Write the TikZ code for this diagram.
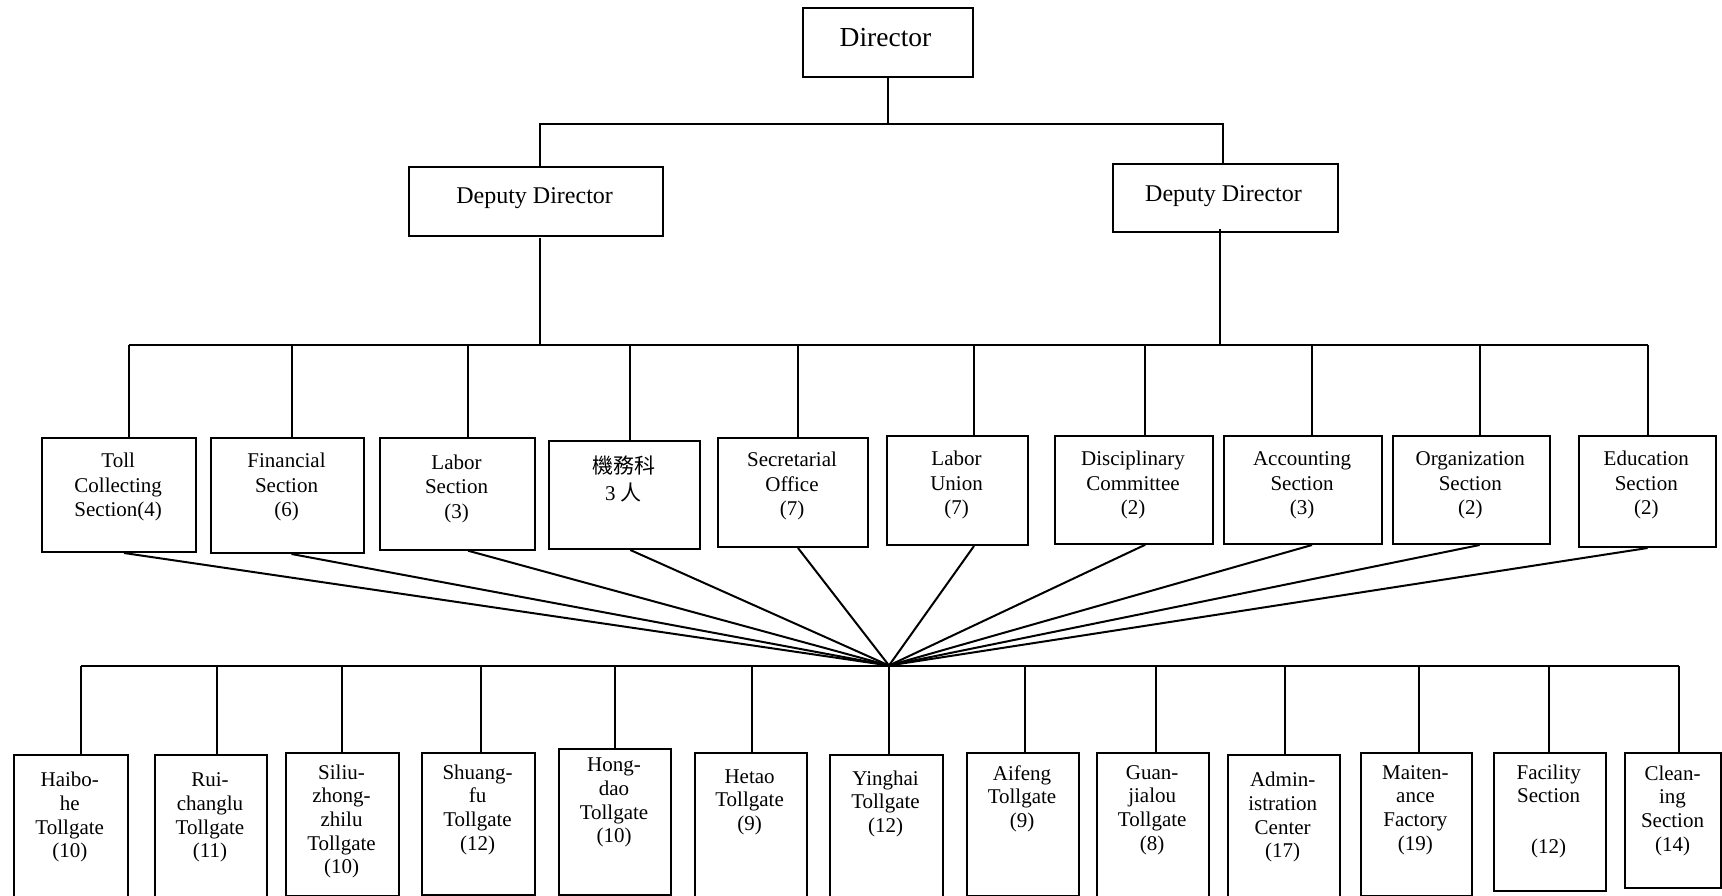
\documentclass[tikz,border=0pt]{standalone}
\usepackage{fontspec}
\setmainfont{Liberation Serif}
\newfontfamily\cjk{Noto Sans CJK TC}
\newcommand\fdir{\fontsize{27.5}{30}\selectfont}
\newcommand\fdep{\fontsize{24}{28}\selectfont}
\newcommand\fmid{\fontsize{21}{24.5}\selectfont}
\newcommand\fbot{\fontsize{21}{23.7}\selectfont}
\begin{document}
\begin{tikzpicture}[x=1pt,y=-1pt,
  box/.style={draw, line width=2pt, rectangle, inner sep=0pt, anchor=north west},
  ln/.style={line width=2pt},
  tdir/.style={align=center, inner sep=0pt, anchor=base, font=\fdir},
  tdep/.style={align=center, inner sep=0pt, anchor=base, font=\fdep},
  tmid/.style={align=center, inner sep=0pt, anchor=base, font=\fmid},
  tbot/.style={align=center, inner sep=0pt, anchor=base, font=\fbot}]
\useasboundingbox[fill=white] (0,0) rectangle (1722,896);

% ---------- top level ----------
\node[box, minimum width=170pt, minimum height=69pt] (dir) at (802,7.5) {};
\node[tdir] (dirt) at (885.5,46.7) {Director};
\node[box, minimum width=254pt, minimum height=69.3pt] (dd1) at (407.6,165.7) {};
\node[tdep] (dd1t) at (534.6,204) {Deputy Director};
\node[box, minimum width=224.7pt, minimum height=68pt] (dd2) at (1111.8,163) {};
\node[tdep] (dd2t) at (1223.5,201.7) {Deputy Director};

\coordinate (t1) at (540.4,124);
\coordinate (t2) at (1222.6,124);
\draw[ln] (dir.south) -- (dir.south |- t1);
\draw[ln] (t1 |- dd1.north) -- (t1) -- (t2) -- (t2 |- dd2.north);

% ---------- middle level ----------
\node[box, minimum width=153.6pt, minimum height=113.7pt] (m1) at (41.4,437.3) {};
\node[box, minimum width=153pt, minimum height=115pt] (m2) at (210,437) {};
\node[box, minimum width=155pt, minimum height=111.4pt] (m3) at (379,437.3) {};
\node[box, minimum width=150.7pt, minimum height=108pt] (m4) at (548.3,440) {};
\node[box, minimum width=150pt, minimum height=109pt] (m5) at (717,437) {};
\node[box, minimum width=141pt, minimum height=109pt] (m6) at (886,435) {};
\node[box, minimum width=157.7pt, minimum height=107.7pt] (m7) at (1054,435) {};
\node[box, minimum width=158pt, minimum height=108pt] (m8) at (1223,435) {};
\node[box, minimum width=157.4pt, minimum height=108pt] (m9) at (1391.6,435) {};
\node[box, minimum width=137.3pt, minimum height=111pt] (m10) at (1577.7,435) {};

% (anchor base = baseline of the last line)
\node[tmid] (m1t) at (118.2,516.7) {Toll\\Collecting\\Section(4)};
\node[tmid] (m2t) at (286.5,516.7) {Financial\\Section\\(6)};
\node[tmid] (m3t) at (456.5,518) {Labor\\Section\\(3)};
\node[tmid] (m4t) at (623.6,500.5) {{\cjk 機務科}\\[3pt]3 {\cjk 人}};
\node[tmid] (m5t) at (792,515.7) {Secretarial\\Office\\(7)};
\node[tmid] (m6t) at (956.5,514.7) {Labor\\Union\\(7)};
\node[tmid] (m7t) at (1133,514.7) {Disciplinary\\Committee\\(2)};
\node[tmid] (m8t) at (1302,514.7) {Accounting\\Section\\(3)};
\node[tmid] (m9t) at (1470.3,514.7) {Organization\\Section\\(2)};
\node[tmid] (m10t) at (1646.3,514.7) {Education\\Section\\(2)};

\coordinate (d1) at (540.4,345);
\coordinate (d2) at (1220,345);
\draw[ln] ([yshift=-1pt]t1 |- dd1.south) -- (d1);
\draw[ln] ([yshift=4pt]d2 |- dd2.south) -- (d2);

\foreach \i/\x in {1/128.7,2/291.5,3/468,4/630.3,5/798,6/974,7/1145.3,8/1312,9/1479.6,10/1647.6}{
  \coordinate (s\i) at (\x,345);
}
\draw[ln] (s1) -- (s10);
\foreach \i in {1,...,10}{
  \draw[ln] (s\i) -- (s\i |- m\i.north);
}

% ---------- convergence ----------
\coordinate (C) at (889,665.5);
\draw[ln] (m1.south -| 124,0) -- (C);
\foreach \i in {2,...,10}{
  \draw[ln] (m\i.south -| s\i) -- (C);
}

% ---------- bottom level ----------
\node[box, minimum width=113.5pt, minimum height=146pt] (b1) at (13,754) {};
\node[box, minimum width=112pt, minimum height=146pt] (b2) at (154,754) {};
\node[box, minimum width=113pt, minimum height=143.3pt] (b3) at (285,751.7) {};
\node[box, minimum width=113pt, minimum height=142.3pt] (b4) at (421,751.7) {};
\node[box, minimum width=112pt, minimum height=146pt] (b5) at (558,748) {};
\node[box, minimum width=112pt, minimum height=148pt] (b6) at (693.6,752) {};
\node[box, minimum width=113pt, minimum height=146pt] (b7) at (829,754) {};
\node[box, minimum width=112pt, minimum height=143.3pt] (b8) at (966,751.7) {};
\node[box, minimum width=112.4pt, minimum height=148.3pt] (b9) at (1096,751.7) {};
\node[box, minimum width=112.1pt, minimum height=146pt] (b10) at (1226.6,754) {};
\node[box, minimum width=111.2pt, minimum height=143.3pt] (b11) at (1359.8,751.7) {};
\node[box, minimum width=112.1pt, minimum height=138.3pt] (b12) at (1492.6,751.7) {};
\node[box, minimum width=96pt, minimum height=135.3pt] (b13) at (1624,751.7) {};

\node[tbot] (b1t) at (69.75,857.8) {Haibo-\\he\\Tollgate\\(10)};
\node[tbot] (b2t) at (210,857.8) {Rui-\\changlu\\Tollgate\\(11)};
\node[tbot] (b3t) at (341.5,873.8) {Siliu-\\zhong-\\zhilu\\Tollgate\\(10)};
\node[tbot] (b4t) at (477.5,850.1) {Shuang-\\fu\\Tollgate\\(12)};
\node[tbot] (b5t) at (614,842.8) {Hong-\\dao\\Tollgate\\(10)};
\node[tbot] (b6t) at (749.6,830.4) {Hetao\\Tollgate\\(9)};
\node[tbot] (b7t) at (885.5,832.4) {Yinghai\\Tollgate\\(12)};
\node[tbot] (b8t) at (1022,827.4) {Aifeng\\Tollgate\\(9)};
\node[tbot] (b9t) at (1152.2,850.1) {Guan-\\jialou\\Tollgate\\(8)};
\node[tbot] (b10t) at (1282.65,857.8) {Admin-\\istration\\Center\\(17)};
\node[tbot] (b11t) at (1415.4,850.1) {Maiten-\\ance\\Factory\\(19)};
\node[tbot] (b12t) at (1548.65,853.4) {Facility\\Section\\[27pt](12)};
\node[tbot] (b13t) at (1672.5,851.1) {Clean-\\ing\\Section\\(14)};

\foreach \i/\x in {1/81.4,2/216.8,3/342,4/481,5/614.8,6/752.4,7/889.3,8/1025,9/1155.5,10/1285.4,11/1419.3,12/1548.8,13/1679}{
  \coordinate (u\i) at (\x,665.5);
}
\draw[ln] (u1) -- (u13);
\foreach \i in {1,...,13}{
  \draw[ln] (u\i) -- (u\i |- b\i.north);
}
\end{tikzpicture}
\end{document}
